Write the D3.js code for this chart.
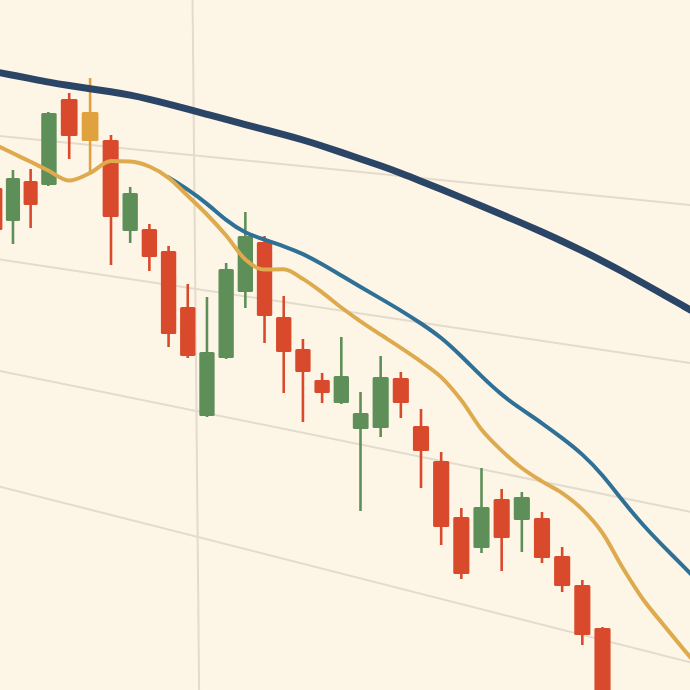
<!DOCTYPE html>
<html>
<head>
<meta charset="utf-8">
<script src="https://cdn.jsdelivr.net/npm/d3@7/dist/d3.min.js"></script>
<style>
  html, body { margin: 0; padding: 0; background: #FDF5E6; overflow: hidden; }
  svg { display: block; }
</style>
</head>
<body>
<svg id="chart" width="690" height="690"></svg>
<script>
// ---- data (prices) ----
const opens  = [181.2,177.9,181.9,181.5,190.1,188.8,186.0,176.9,177.1,174.9,169.3,158.4,164.2,170.8,175.8,168.3,165.1,162.0,159.7,157.1,157.2,162.2,157.4,153.9,148.3,145.2,150.1,148.0,148.2,144.4,141.5,137.2];
const highs  = [182.0,183.0,183.1,188.8,190.7,192.2,186.5,181.3,177.6,175.4,171.6,170.3,173.7,178.8,176.4,170.4,166.1,162.7,166.3,160.8,164.4,162.8,159.1,154.8,149.2,153.2,151.1,150.8,148.8,145.3,142.0,137.3];
const lows   = [176.4,175.6,177.2,181.4,184.1,182.8,173.5,175.7,172.9,165.3,164.2,158.3,164.1,169.2,165.7,160.7,157.8,159.7,159.6,148.9,156.3,158.2,151.2,145.5,142.1,144.7,142.9,144.8,143.7,140.8,135.5,127.0];
const closes = [177.0,182.2,179.5,188.7,186.4,185.9,178.3,180.7,174.3,166.6,164.4,164.8,173.1,176.4,168.4,164.8,162.8,160.7,162.4,158.7,162.3,159.7,154.9,147.3,142.6,149.3,146.2,150.3,144.2,141.4,136.5,128.0];
const highlighted = [5];

// long moving average (index 0..36)
const maLong = [192.82,192.48,192.14,191.79,191.44,191.12,190.82,190.5,190.08,189.6,189.09,188.57,188.05,187.54,187.04,186.54,186.01,185.41,184.76,184.11,183.43,182.69,181.89,181.07,180.24,179.4,178.55,177.69,176.81,175.88,174.91,173.9,172.83,171.7,170.56,169.42,168.27];
// medium moving average (starts at index 9)
const maMidStart = 9;
const maMid = [182.26,181.07,179.67,177.93,176.68,176.04,175.39,174.64,173.59,172.45,171.31,170.14,168.96,167.67,166.28,164.4,162.35,160.49,159.04,157.7,156.2,154.62,152.54,149.9,147.5,145.4,143.4,141.3];
// short moving average (index 0..36)
const maShort = [185.53,184.67,183.82,182.95,181.94,182.7,183.9,183.85,183.35,182.22,180.42,178.55,176.45,174.05,173.04,173.07,172.11,170.76,169.25,167.87,166.53,165.22,163.84,162.29,159.97,157.05,154.94,153.2,151.86,150.69,149.06,146.7,143.22,140.1,137.58,135.13,132.7];

// grid levels: price at first and last index
const gridStart = [186.45,174.12,163.0,151.45];
const gridEnd   = [179.37,163.5,148.55,133.44];
const gridIndexRange = [0, 36];
const vGridIndex = [10.25, 10.59];   // at top / bottom of view
const priceDomain = [131, 200];

// ---- scales ----
const W = 690, H = 690;
const x = d3.scaleLinear().domain([0,3,6,19,31,36]).range([-4.7,48.3,111,360.5,602.5,703.3]);
const y = d3.scaleLinear().domain(priceDomain).range([H, 0]);

const C = {
  bg: "#FDF5E6", grid: "#E3DBCB", up: "#5E8F59", down: "#D9492B", hi: "#E0A23E",
  long: "#2B4566", mid: "#2F7196", short: "#DDAA4E"
};

const svg = d3.select("#chart");
svg.append("rect").attr("width", W).attr("height", H).attr("fill", C.bg);

// grid
const g = svg.append("g");
g.selectAll("line.h").data(gridStart).join("line")
  .attr("x1", x(gridIndexRange[0])).attr("x2", x(gridIndexRange[1]))
  .attr("y1", d => y(d)).attr("y2", (d, i) => y(gridEnd[i]))
  .attr("stroke", C.grid).attr("stroke-width", 2);
g.append("line")
  .attr("x1", x(vGridIndex[0])).attr("y1", y(priceDomain[1]))
  .attr("x2", x(vGridIndex[1])).attr("y2", y(priceDomain[0]))
  .attr("stroke", C.grid).attr("stroke-width", 2);

// candles
const candles = opens.map((o, i) => ({ i, o, h: highs[i], l: lows[i], c: closes[i] }));
const colorOf = d => highlighted.includes(d.i) ? C.hi : (d.c >= d.o ? C.up : C.down);
const cg = svg.append("g");
const cs = cg.selectAll("g").data(candles).join("g");
cs.append("line")
  .attr("x1", d => x(d.i)).attr("x2", d => x(d.i))
  .attr("y1", d => y(d.h)).attr("y2", d => y(d.l))
  .attr("stroke", colorOf).attr("stroke-width", 2.6);
cs.append("rect")
  .attr("x", d => x(d.i - 0.4))
  .attr("width", d => x(d.i + 0.4) - x(d.i - 0.4))
  .attr("y", d => y(Math.max(d.o, d.c)))
  .attr("height", d => Math.max(1, y(Math.min(d.o, d.c)) - y(Math.max(d.o, d.c))))
  .attr("rx", 1.5)
  .attr("fill", colorOf);

// moving averages
const smooth = d3.line().x(d => x(d[0])).y(d => y(d[1])).curve(d3.curveBasis);
const mono = d3.line().x(d => x(d[0])).y(d => y(d[1])).curve(d3.curveMonotoneX);
svg.append("path").datum(maLong.map((v, i) => [i, v]))
  .attr("d", smooth).attr("fill", "none").attr("stroke", C.long)
  .attr("stroke-width", 7).attr("stroke-linecap", "round");
svg.append("path").datum(maMid.map((v, i) => [i + maMidStart, v]))
  .attr("d", smooth).attr("fill", "none").attr("stroke", C.mid)
  .attr("stroke-width", 4).attr("stroke-linecap", "round");
svg.append("path").datum(maShort.map((v, i) => [i, v]))
  .attr("d", mono).attr("fill", "none").attr("stroke", C.short)
  .attr("stroke-width", 4).attr("stroke-linecap", "round");
</script>
</body>
</html>
